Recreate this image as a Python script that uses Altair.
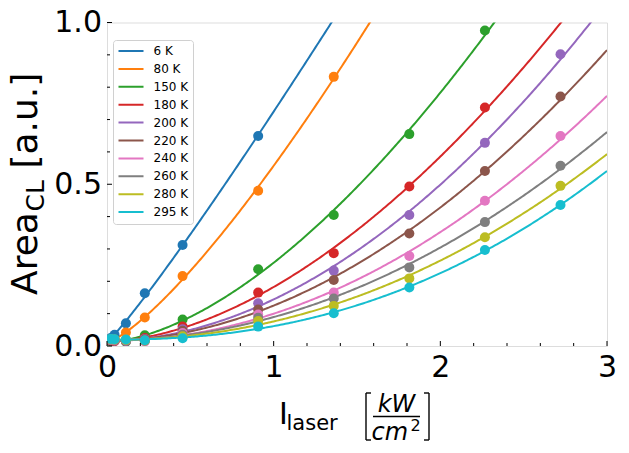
import altair as alt
import numpy as np
import pandas as pd

# ---------------- data ----------------
intensity = [0.0227, 0.0453, 0.1134, 0.2268, 0.4535, 0.907, 1.3605, 1.814, 2.2675, 2.721]

temps = ["6 K", "80 K", "150 K", "180 K", "200 K", "220 K", "240 K", "260 K", "280 K", "295 K"]
colors = ["#1f77b4", "#ff7f0e", "#2ca02c", "#d62728", "#9467bd",
          "#8c564b", "#e377c2", "#7f7f7f", "#bcbd22", "#17becf"]

area_6K   = [0.025, 0.035, 0.070, 0.163, 0.312, 0.649, None, None, None, None]
area_80K  = [0.016, 0.019, 0.042, 0.088, 0.216, 0.480, 0.832, None, None, None]
area_150K = [0.015, 0.016, 0.013, 0.033, 0.082, 0.237, 0.405, 0.655, 0.975, None]
area_180K = [0.016, 0.015, 0.016, 0.025, 0.060, 0.165, 0.287, 0.493, 0.737, None]
area_200K = [0.017, 0.016, 0.015, 0.022, 0.052, 0.132, 0.233, 0.405, 0.628, 0.902]
area_220K = [0.018, 0.017, 0.016, 0.020, 0.047, 0.113, 0.204, 0.348, 0.541, 0.771]
area_240K = [0.019, 0.018, 0.017, 0.014, 0.040, 0.097, 0.165, 0.278, 0.449, 0.649]
area_260K = [0.020, 0.019, 0.018, 0.016, 0.035, 0.087, 0.147, 0.243, 0.383, 0.557]
area_280K = [0.021, 0.020, 0.019, 0.017, 0.030, 0.077, 0.124, 0.209, 0.336, 0.495]
area_295K = [0.022, 0.021, 0.020, 0.018, 0.024, 0.060, 0.101, 0.181, 0.297, 0.436]

series = [area_6K, area_80K, area_150K, area_180K, area_200K,
          area_220K, area_240K, area_260K, area_280K, area_295K]

x_major = [0, 1, 2, 3]
x_minor = [0.2, 0.4, 0.6, 0.8, 1.2, 1.4, 1.6, 1.8, 2.2, 2.4, 2.6, 2.8]
y_major = [0.0, 0.5, 1.0]
y_minor = [0.1, 0.2, 0.3, 0.4, 0.6, 0.7, 0.8, 0.9]

# ---------------- tables ----------------
pts = []
for t, ys in zip(temps, series):
    for xv, yv in zip(intensity, ys):
        if yv is not None:
            pts.append({"temp": t, "x": xv, "y": yv})
pts_df = pd.DataFrame(pts)


def fit_power_offset(xs, ys):
    """weighted (sigma ~ sqrt(y)) least-squares fit of y = a * x**b + c"""
    xs = np.asarray(xs, float)
    ys = np.asarray(ys, float)
    w = 1.0 / np.sqrt(ys)
    best = None
    for b in np.linspace(0.8, 3.0, 2201):
        A = np.column_stack([xs ** b, np.ones_like(xs)])
        coef, *_ = np.linalg.lstsq(A * w[:, None], ys * w, rcond=None)
        sse = float((((A @ coef - ys) * w) ** 2).sum())
        if best is None or sse < best[0]:
            best = (sse, coef[0], b, coef[1])
    return best[1], best[2], best[3]


grid = np.linspace(0, 3, 301)
fit_rows = []
for t, ys in zip(temps, series):
    xs = [xv for xv, yv in zip(intensity, ys) if yv is not None]
    yy = [yv for yv in ys if yv is not None]
    a, b, c = fit_power_offset(xs, yy)
    for g in grid:
        fit_rows.append({"temp": t, "x": float(g), "y": float(a * g ** b + c)})
fit_df = pd.DataFrame(fit_rows)

W, H = 500, 323.5
FONT = "DejaVu Sans"

xs = alt.Scale(domain=[0, 3], nice=False, zero=False)
ys = alt.Scale(domain=[0, 1], nice=False, zero=False)
cs = alt.Scale(domain=temps, range=colors)

xaxis = alt.Axis(values=x_major, format="d", labelFontSize=30, labelFont=FONT,
                 labelColor="black", ticks=False, domain=False, grid=False,
                 title=None, labelPadding=6, labelFlush=False, labelOverlap=False)
yaxis = alt.Axis(values=y_major, format=".1f", labelFontSize=30, labelFont=FONT,
                 labelColor="black", ticks=False, domain=False, grid=False,
                 title=None, labelPadding=5.5, labelFlush=False, labelOverlap=False)

lines = alt.Chart(fit_df).mark_line(strokeWidth=2, clip=True).encode(
    x=alt.X("x:Q", scale=xs, axis=xaxis),
    y=alt.Y("y:Q", scale=ys, axis=yaxis),
    color=alt.Color("temp:N", scale=cs, sort=temps, legend=alt.Legend(
        orient="none", legendX=6, legendY=17.5, title=None,
        symbolType="stroke", symbolStrokeWidth=2, symbolSize=625,
        clipHeight=13, rowPadding=4.9, labelFontSize=12, labelFont=FONT,
        labelColor="black", padding=4.5, fillColor="white",
        strokeColor="#d0d0d0", cornerRadius=3, labelOffset=9)),
    detail="temp:N",
)

points = alt.Chart(pts_df).mark_circle(size=100, opacity=1, clip=True).encode(
    x=alt.X("x:Q", scale=xs),
    y=alt.Y("y:Q", scale=ys),
    color=alt.Color("temp:N", scale=cs, legend=None),
)


def ticks_x(vals, length):
    return alt.Chart(pd.DataFrame({"v": vals})).mark_rule(color="black", strokeWidth=1).encode(
        x=alt.X("v:Q", scale=xs), y=alt.value(H), y2=alt.value(H - length))


def ticks_y(vals, length):
    return alt.Chart(pd.DataFrame({"v": vals})).mark_rule(color="black", strokeWidth=1).encode(
        y=alt.Y("v:Q", scale=ys), x=alt.value(0), x2=alt.value(length))


one = alt.Data(values=[{"k": 1}])


def txt(s, x, y, size, angle=0, italic=False, align="left", baseline="alphabetic"):
    kw = dict(text=s, fontSize=size, font=FONT, color="black", align=align,
              baseline=baseline)
    if angle:
        kw["angle"] = angle
    if italic:
        kw["fontStyle"] = "italic"
    return alt.Chart(one).mark_text(**kw).encode(x=alt.value(x), y=alt.value(y))


def seg(x1, y1, x2, y2, w=1.3):
    return alt.Chart(one).mark_rule(color="black", strokeWidth=w).encode(
        x=alt.value(x1), y=alt.value(y1), x2=alt.value(x2), y2=alt.value(y2))


OX, OY = 107, 22.5  # page position of the plot origin

# x title:  I_laser [kW / cm^2]
xt = [
    txt("I", 279 - OX, 423.5 - OY, 30),
    txt("laser", 286.5 - OX, 429.5 - OY, 21),
    txt("kW", 396.5 - OX, 412 - OY, 24, italic=True, align="center"),
    txt("cm", 371.5 - OX, 440 - OY, 24, italic=True),
    txt("2", 410.5 - OX, 431 - OY, 16),
    seg(373 - OX, 416.5 - OY, 420 - OX, 416.5 - OY, 1.5),
    # brackets
    seg(366 - OX, 393 - OY, 366 - OX, 440 - OY, 1.4),
    seg(366 - OX, 393 - OY, 371 - OX, 393 - OY, 1.4),
    seg(366 - OX, 440 - OY, 371 - OX, 440 - OY, 1.4),
    seg(429 - OX, 393 - OY, 429 - OX, 440 - OY, 1.4),
    seg(424 - OX, 393 - OY, 429 - OX, 393 - OY, 1.4),
    seg(424 - OX, 440 - OY, 429 - OX, 440 - OY, 1.4),
]

# y title: Area_CL [a.u.]
yt = [
    txt("Area", 37 - OX, 295 - OY, 36, angle=270),
    txt("CL", 44 - OX, 211.4 - OY, 25, angle=270),
    txt("[a.u.]", 37 - OX, 168.5 - OY, 36, angle=270),
]

chart = alt.layer(
    lines, points,
    ticks_x(x_major, 5), ticks_x(x_minor, 3),
    ticks_y(y_major, 5), ticks_y(y_minor, 3),
    *xt, *yt,
).resolve_legend(color="independent").properties(
    width=W, height=H,
    autosize=alt.AutoSizeParams(type="none"),
    padding={"left": 99, "top": 14.5, "right": 14, "bottom": 100},
).configure_view(
    stroke="black", strokeWidth=1.2
).configure(background="white")

chart.save("out.html", embed_options={"renderer": "svg", "actions": False})
